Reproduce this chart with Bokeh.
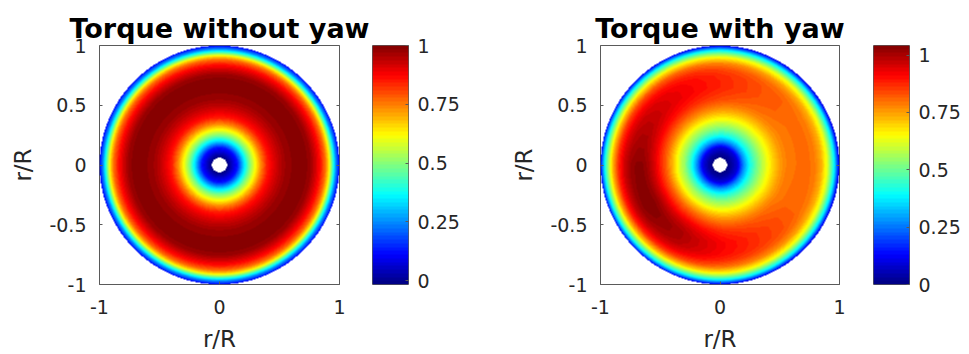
import numpy as np
from bokeh.plotting import figure
from bokeh.models import LinearColorMapper, LinearAxis, FixedTicker, Range1d
from bokeh.layouts import row
from bokeh.embed import file_html
from bokeh.resources import INLINE

# ---------------- data ----------------
titles = ["Torque without yaw", "Torque with yaw"]
axis_label = "r/R"
x_ticks = [-1, 0, 1]
x_tick_labels = ["-1", "0", "1"]
y_ticks = [-1, -0.5, 0, 0.5, 1]
y_tick_labels = ["-1", "-0.5", "0", "0.5", "1"]
cbar_ticks = [0, 0.25, 0.5, 0.75, 1]
cbar_tick_labels = ["0", "0.25", "0.5", "0.75", "1"]

hub_radius = 0.065

# radial torque profile, no yaw (axisymmetric)
r_no_yaw = [0.065, 0.10, 0.15, 0.20, 0.25, 0.30, 0.35, 0.40, 0.45, 0.50, 0.55,
            0.62, 0.70, 0.76, 0.80, 0.84, 0.88, 0.91, 0.93, 0.95, 0.97, 1.00]
torque_no_yaw = [-0.017, 0.04, 0.13, 0.32, 0.49, 0.62, 0.75, 0.85, 0.90, 0.94, 0.97,
                 0.99, 1.00, 0.97, 0.92, 0.86, 0.77, 0.65, 0.52, 0.38, 0.25, 0.10]

# radial torque profiles with yaw: on the strong side (left) and weak side (right)
r_yaw = [0.065, 0.10, 0.15, 0.20, 0.25, 0.30, 0.35, 0.40, 0.45, 0.50, 0.55,
         0.60, 0.65, 0.70, 0.75, 0.80, 0.85, 0.90, 0.93, 0.96, 0.98, 1.00]
torque_yaw_strong = [0.0, 0.03, 0.11, 0.29, 0.44, 0.55, 0.63, 0.73, 0.82, 0.89, 0.96,
                     1.01, 1.04, 1.04, 1.02, 0.97, 0.88, 0.72, 0.58, 0.42, 0.28, 0.12]
torque_yaw_weak = [0.0, 0.03, 0.09, 0.27, 0.40, 0.49, 0.57, 0.64, 0.70, 0.75, 0.78,
                   0.79, 0.80, 0.80, 0.80, 0.78, 0.73, 0.62, 0.50, 0.36, 0.22, 0.08]
# azimuth (deg, counter-clockwise from +x) and share of the strong-side profile
azimuth_deg = [0, 30, 60, 90, 120, 150, 180, 210, 240, 270, 300, 330]
strong_share = [0.0, 0.0, 0.125, 0.33, 0.54, 0.75, 0.96, 1.0, 0.83, 0.5, 0.25, 0.04]

clim_no_yaw = (-0.017, 1.0)
clim_yaw = (0.0, 1.042)

# ---------------- build fields ----------------
N = 240
c = -1 + (np.arange(N) + 0.5) * 2.0 / N
X, Y = np.meshgrid(c, c)
R = np.hypot(X, Y)
TH = np.degrees(np.arctan2(Y, X)) % 360
outside = (R < hub_radius) | (R > 1.0)

field1 = np.interp(R, r_no_yaw, torque_no_yaw)
field1[outside] = np.nan

az = np.array(azimuth_deg + [360])
sh = np.array(strong_share + [strong_share[0]])
w = np.interp(TH, az, sh)
field2 = w * np.interp(R, r_yaw, torque_yaw_strong) + (1 - w) * np.interp(R, r_yaw, torque_yaw_weak)
field2[outside] = np.nan


def jet(n):
    x = (np.arange(n) + 0.5) / n
    r = np.clip(1.5 - np.abs(4 * x - 3), 0, 1)
    g = np.clip(1.5 - np.abs(4 * x - 2), 0, 1)
    b = np.clip(1.5 - np.abs(4 * x - 1), 0, 1)
    return ["#%02x%02x%02x" % (int(round(a * 255)), int(round(bb * 255)), int(round(cc * 255)))
            for a, bb, cc in zip(r, g, b)]


PALETTE = jet(64)
FONT = "DejaVu Sans"
TXT = "#262626"
BOX = "#5a5a5a"


def style_axis(ax, ticks, labels, size="19px"):
    ax.ticker = FixedTicker(ticks=ticks)
    ax.major_label_overrides = {t: l for t, l in zip(ticks, labels)}
    ax.major_tick_in = 3
    ax.major_tick_out = 0
    ax.minor_tick_line_color = None
    ax.axis_line_color = None
    ax.major_tick_line_color = BOX
    ax.major_label_text_font = FONT
    ax.major_label_text_font_size = size
    ax.major_label_text_color = TXT


def main_fig(title, field, mapper, left):
    p = figure(width=left + 240 + 32, height=354, x_range=Range1d(-1, 1), y_range=Range1d(-1, 1),
               min_border_left=left, min_border_right=32, min_border_top=45, min_border_bottom=69,
               output_backend="svg", toolbar_location=None, title=title)
    p.image(image=[field], x=-1, y=-1, dw=2, dh=2, color_mapper=mapper)
    p.grid.visible = False
    p.outline_line_color = BOX
    p.outline_line_width = 1
    p.background_fill_color = "white"
    style_axis(p.xaxis[0], x_ticks, x_tick_labels)
    style_axis(p.yaxis[0], y_ticks, y_tick_labels)
    p.xaxis[0].major_label_standoff = 15
    p.xaxis[0].axis_label_standoff = 9
    p.yaxis[0].major_label_standoff = 13
    p.yaxis[0].axis_label_standoff = 10
    for ax in (p.xaxis[0], p.yaxis[0]):
        ax.axis_label = axis_label
        ax.axis_label_text_font = FONT
        ax.axis_label_text_font_size = "23px"
        ax.axis_label_text_font_style = "normal"
        ax.axis_label_text_color = TXT
    ra = LinearAxis()
    style_axis(ra, y_ticks, ["" for _ in y_ticks])
    ra.major_label_text_font_size = "0px"
    ra.major_label_standoff = 0
    p.add_layout(ra, "right")
    p.title.text_font = FONT
    p.title.text_font_size = "27px"
    p.title.text_font_style = "bold"
    p.title.text_color = "black"
    p.title.align = "center"
    p.title.standoff = 4
    return p


def cbar_fig(mapper, clim, left, right, top, bottom):
    q = figure(width=left + 36 + right, height=354, x_range=Range1d(0, 1), y_range=Range1d(*clim),
               min_border_left=left, min_border_right=right, min_border_top=top,
               min_border_bottom=bottom, x_axis_location=None, y_axis_location="right",
               output_backend="svg", toolbar_location=None)
    grad = np.linspace(clim[0], clim[1], 256).reshape(-1, 1)
    q.image(image=[grad], x=0, y=clim[0], dw=1, dh=clim[1] - clim[0], color_mapper=mapper)
    q.grid.visible = False
    q.outline_line_color = BOX
    ax = q.yaxis[0]
    style_axis(ax, cbar_ticks, cbar_tick_labels)
    ax.major_label_standoff = 9
    return q


m1 = LinearColorMapper(palette=PALETTE, low=clim_no_yaw[0], high=clim_no_yaw[1], nan_color="rgba(0,0,0,0)")
m2 = LinearColorMapper(palette=PALETTE, low=clim_yaw[0], high=clim_yaw[1], nan_color="rgba(0,0,0,0)")

pA = main_fig(titles[0], field1, m1, 99)      # page 0..371, frame 99..339
qB = cbar_fig(m1, clim_no_yaw, 1, 100, 45, 70)  # page 371..508, bar 372..408
pC = main_fig(titles[1], field2, m2, 91)      # page 508..871, frame 599..839
qD = cbar_fig(m2, clim_yaw, 2, 58, 43, 69)      # page 871..967, bar 873..909

layout = row(pA, qB, pC, qD, spacing=0)
open("out.html", "w").write(file_html(layout, INLINE))
